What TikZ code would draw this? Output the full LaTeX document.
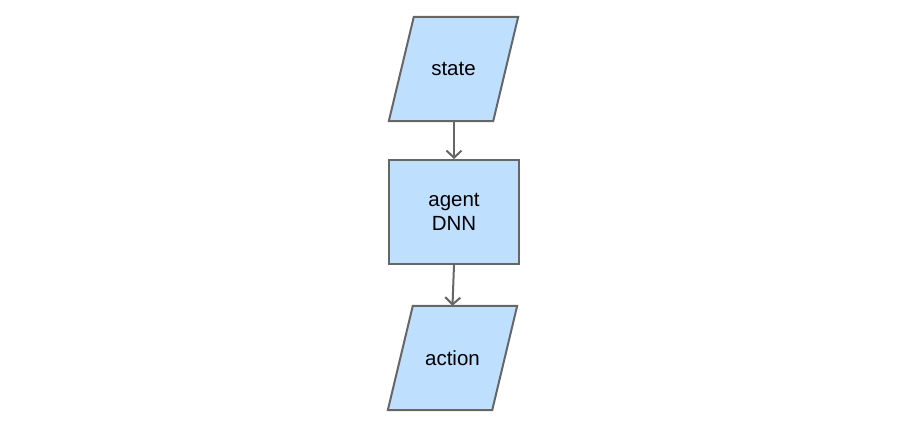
\documentclass[tikz,border=0pt]{standalone}
\usepackage{fontspec}
\setmainfont{Liberation Sans}
\usetikzlibrary{arrows.meta,calc,backgrounds}
\definecolor{boxfill}{HTML}{BFDFFF}
\definecolor{boxline}{HTML}{666666}
\tikzset{
  x=1pt,y=-1pt,
  textbase/.style={inner sep=0pt,font=\fontsize{20.5}{24}\selectfont,align=center,
    minimum height=104pt},
  databox/.style={textbase,rectangle,minimum width=104pt},
  procbox/.style={textbase,rectangle,draw=boxline,fill=boxfill,line width=2pt,minimum width=130pt},
  outline/.style={draw=boxline,fill=boxfill,line width=2pt,line join=miter},
  flow/.style={draw=boxline,line width=2pt,-{Straight Barb[length=7pt,width=15pt]}}
}
\newcommand{\slantbox}[1]{%
  \draw[outline] ($(#1.north west)+(12.5,0)$) -- ($(#1.north east)+(12.5,0)$)
    -- ($(#1.south east)+(-12.5,0)$) -- ($(#1.south west)+(-12.5,0)$) -- cycle;}
\begin{document}
\begin{tikzpicture}
\useasboundingbox (0,0) rectangle (898,429);
\node[databox] (state) at (453.5,69) {state};
\node[procbox] (agent) at (454,212) {agent\\DNN};
\node[databox] (action) at (452.5,358) {action};
\begin{scope}[on background layer]
\slantbox{state}
\slantbox{action}
\end{scope}
\draw[flow] (state.south -| agent.center) -- (agent.north);
\draw[flow] (agent.south) -- (action.north);
\end{tikzpicture}
\end{document}
